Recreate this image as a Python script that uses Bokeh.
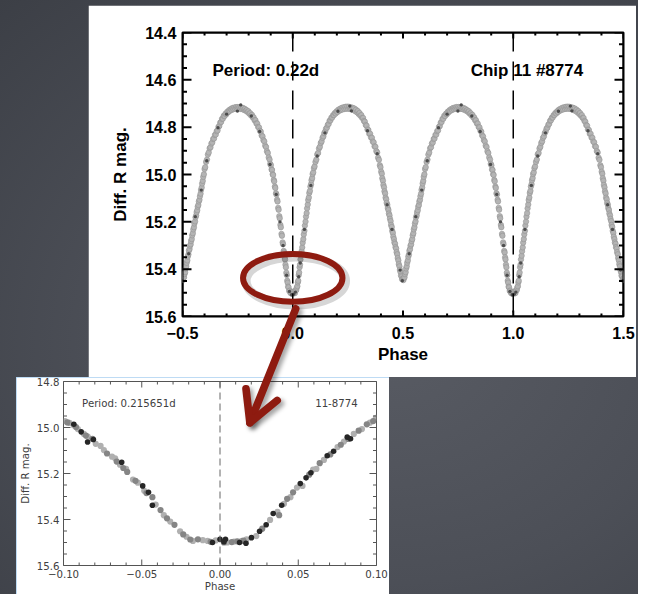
import numpy as np
from bokeh.plotting import figure
from bokeh.models import (Range1d, FixedTicker, Span, Label, CustomJSTickFormatter, Spacer, Div)
from bokeh.layouts import row, column
from bokeh.embed import file_html
from bokeh.resources import INLINE

# ---------------- data: one folded cycle of the light curve (phase 0..1) ----------------
cycle_phase = [
    0.001, 0.004, 0.007, 0.010, 0.013, 0.016, 0.018, 0.021, 0.023, 0.025, 0.027, 0.029, 0.031, 0.033,
    0.035, 0.038, 0.040, 0.043, 0.045, 0.048, 0.050, 0.053, 0.055, 0.058, 0.060, 0.063, 0.065, 0.068,
    0.070, 0.073, 0.075, 0.078, 0.080, 0.083, 0.085, 0.088, 0.090, 0.093, 0.096, 0.099, 0.103, 0.107,
    0.111, 0.115, 0.119, 0.123, 0.127, 0.131, 0.135, 0.139, 0.143, 0.147, 0.151, 0.155, 0.159, 0.163,
    0.167, 0.171, 0.175, 0.179, 0.183, 0.187, 0.191, 0.195, 0.199, 0.203, 0.207, 0.211, 0.215, 0.219,
    0.223, 0.227, 0.231, 0.235, 0.239, 0.243, 0.247, 0.251, 0.255, 0.259, 0.263, 0.267, 0.271, 0.275,
    0.279, 0.283, 0.287, 0.291, 0.295, 0.299, 0.303, 0.307, 0.311, 0.315, 0.319, 0.323, 0.327, 0.331,
    0.335, 0.339, 0.343, 0.347, 0.351, 0.355, 0.359, 0.363, 0.367, 0.371, 0.375, 0.379, 0.383, 0.387,
    0.391, 0.395, 0.398, 0.401, 0.404, 0.406, 0.409, 0.411, 0.414, 0.416, 0.419, 0.421, 0.424, 0.426,
    0.429, 0.431, 0.434, 0.436, 0.439, 0.441, 0.444, 0.446, 0.449, 0.451, 0.454, 0.456, 0.459, 0.461,
    0.464, 0.466, 0.469, 0.471, 0.474, 0.476, 0.479, 0.481, 0.484, 0.486, 0.489, 0.491, 0.494, 0.496,
    0.499, 0.502, 0.504, 0.507, 0.509, 0.512, 0.514, 0.517, 0.519, 0.522, 0.524, 0.527, 0.529, 0.532,
    0.534, 0.537, 0.539, 0.542, 0.544, 0.547, 0.549, 0.552, 0.554, 0.557, 0.559, 0.562, 0.564, 0.567,
    0.569, 0.572, 0.574, 0.577, 0.579, 0.582, 0.584, 0.587, 0.589, 0.592, 0.594, 0.597, 0.600, 0.603,
    0.607, 0.611, 0.615, 0.619, 0.623, 0.627, 0.631, 0.635, 0.639, 0.643, 0.647, 0.651, 0.655, 0.659,
    0.663, 0.667, 0.671, 0.675, 0.679, 0.683, 0.687, 0.691, 0.695, 0.699, 0.703, 0.707, 0.711, 0.715,
    0.719, 0.723, 0.727, 0.731, 0.735, 0.739, 0.743, 0.747, 0.751, 0.755, 0.759, 0.763, 0.767, 0.771,
    0.775, 0.779, 0.783, 0.787, 0.791, 0.795, 0.799, 0.803, 0.807, 0.811, 0.815, 0.819, 0.823, 0.827,
    0.831, 0.835, 0.839, 0.843, 0.847, 0.851, 0.855, 0.859, 0.863, 0.867, 0.871, 0.875, 0.879, 0.883,
    0.887, 0.891, 0.895, 0.898, 0.901, 0.904, 0.906, 0.909, 0.911, 0.914, 0.916, 0.919, 0.921, 0.924,
    0.926, 0.929, 0.931, 0.934, 0.936, 0.939, 0.941, 0.944, 0.946, 0.949, 0.951, 0.954, 0.956, 0.959,
    0.961, 0.963, 0.965, 0.967, 0.969, 0.971, 0.973, 0.975, 0.977, 0.979, 0.981, 0.984, 0.987, 0.990,
    0.993, 0.996, 0.999,
]
cycle_mag = [
    15.496, 15.503, 15.494, 15.501, 15.490, 15.488, 15.478, 15.472, 15.456, 15.449, 15.425, 15.414, 15.392, 15.381,
    15.359, 15.343, 15.324, 15.308, 15.288, 15.273, 15.253, 15.238, 15.216, 15.199, 15.178, 15.163, 15.143, 15.127,
    15.108, 15.097, 15.078, 15.069, 15.051, 15.041, 15.024, 15.015, 14.998, 14.991, 14.973, 14.966, 14.947, 14.937,
    14.915, 14.909, 14.890, 14.883, 14.867, 14.860, 14.845, 14.839, 14.825, 14.818, 14.806, 14.802, 14.790, 14.786,
    14.773, 14.771, 14.760, 14.759, 14.749, 14.749, 14.740, 14.742, 14.733, 14.736, 14.726, 14.731, 14.722, 14.727,
    14.718, 14.725, 14.716, 14.723, 14.714, 14.722, 14.713, 14.722, 14.714, 14.723, 14.716, 14.725, 14.718, 14.728,
    14.721, 14.732, 14.726, 14.737, 14.732, 14.744, 14.740, 14.752, 14.749, 14.761, 14.761, 14.774, 14.777, 14.791,
    14.794, 14.810, 14.812, 14.828, 14.828, 14.844, 14.845, 14.861, 14.864, 14.881, 14.883, 14.901, 14.907, 14.929,
    14.938, 14.961, 14.969, 14.988, 14.997, 15.016, 15.026, 15.044, 15.054, 15.071, 15.080, 15.098, 15.105, 15.120,
    15.128, 15.142, 15.150, 15.165, 15.173, 15.187, 15.197, 15.213, 15.222, 15.238, 15.247, 15.263, 15.273, 15.287,
    15.293, 15.307, 15.313, 15.328, 15.337, 15.353, 15.363, 15.379, 15.388, 15.403, 15.413, 15.427, 15.431, 15.443,
    15.441, 15.446, 15.437, 15.434, 15.421, 15.413, 15.397, 15.388, 15.373, 15.363, 15.347, 15.338, 15.322, 15.315,
    15.301, 15.295, 15.281, 15.273, 15.257, 15.248, 15.232, 15.223, 15.207, 15.198, 15.181, 15.173, 15.159, 15.151,
    15.136, 15.129, 15.114, 15.107, 15.092, 15.081, 15.065, 15.055, 15.038, 15.027, 15.010, 14.999, 14.977, 14.969,
    14.947, 14.937, 14.916, 14.907, 14.889, 14.885, 14.869, 14.865, 14.850, 14.848, 14.833, 14.831, 14.817, 14.814,
    14.799, 14.795, 14.781, 14.778, 14.765, 14.764, 14.752, 14.753, 14.743, 14.745, 14.735, 14.737, 14.728, 14.731,
    14.723, 14.727, 14.719, 14.724, 14.717, 14.722, 14.715, 14.721, 14.715, 14.721, 14.716, 14.723, 14.717, 14.724,
    14.719, 14.727, 14.723, 14.731, 14.728, 14.736, 14.733, 14.743, 14.741, 14.751, 14.748, 14.759, 14.759, 14.771,
    14.771, 14.784, 14.785, 14.799, 14.801, 14.815, 14.819, 14.835, 14.839, 14.855, 14.860, 14.878, 14.884, 14.902,
    14.909, 14.928, 14.937, 14.955, 14.961, 14.979, 14.981, 14.999, 15.002, 15.023, 15.029, 15.051, 15.057, 15.079,
    15.085, 15.107, 15.114, 15.141, 15.149, 15.176, 15.185, 15.213, 15.223, 15.251, 15.259, 15.287, 15.295, 15.323,
    15.330, 15.350, 15.359, 15.381, 15.392, 15.415, 15.425, 15.449, 15.457, 15.474, 15.477, 15.492, 15.491, 15.501,
    15.497, 15.504, 15.497,
]
# darker measurements of the same cycle
dark_phase = [0.004, 0.012, 0.027, 0.034, 0.053, 0.082, 0.111, 0.146, 0.205, 0.259, 0.266, 0.339,
              0.383, 0.428, 0.450, 0.487, 0.497, 0.528, 0.558, 0.585, 0.610, 0.661, 0.700, 0.749,
              0.764, 0.812, 0.850, 0.897, 0.925, 0.942, 0.956, 0.972, 0.985, 0.995]
dark_mag = [15.506, 15.497, 15.432, 15.374, 15.232, 15.046, 14.922, 14.824, 14.733, 14.711, 14.731, 14.815,
            14.912, 15.128, 15.232, 15.404, 15.449, 15.335, 15.178, 15.066, 14.942, 14.802, 14.745, 14.732,
            14.706, 14.753, 14.818, 14.958, 15.084, 15.200, 15.300, 15.426, 15.494, 15.508]

# ---------------- data: zoom on the primary minimum (inset) ----------------
inset_light_phase = [-0.0991, -0.0962, -0.0935, -0.0908, -0.0870, -0.0845, -0.0794, -0.0763, -0.0742,
                     -0.0690, -0.0670, -0.0639, -0.0600, -0.0556, -0.0525, -0.0484, -0.0411, -0.0359,
                     -0.0318, -0.0255, -0.0214, -0.0173, -0.0110, -0.0079, -0.0027, 0.0046, 0.0090,
                     0.0139, 0.0170, 0.0232, 0.0320, 0.0367, 0.0409, 0.0450, 0.0492, 0.0527, 0.0595,
                     0.0616, 0.0664, 0.0751, 0.0792, 0.0855, 0.0907, 0.0958, 0.0996]
inset_light_mag = [14.972, 14.980, 14.990, 15.007, 15.028, 15.040, 15.071, 15.080, 15.098,
                   15.127, 15.134, 15.162, 15.180, 15.226, 15.240, 15.275, 15.335, 15.381,
                   15.409, 15.451, 15.475, 15.493, 15.490, 15.493, 15.491, 15.500, 15.496,
                   15.493, 15.486, 15.472, 15.402, 15.367, 15.332, 15.303, 15.261, 15.254, 15.183,
                   15.180, 15.141, 15.085, 15.061, 15.028, 15.007, 14.979, 14.958]
inset_mid_phase = [-0.0975, -0.0920, -0.0857, -0.0815, -0.0722, -0.0660, -0.0618, -0.0593, -0.0540,
                   -0.0470, -0.0432, -0.0380, -0.0339, -0.0291, -0.0235, -0.0190, -0.0141, -0.0060,
                   0.0025, 0.0075, 0.0110, 0.0150, 0.0270, 0.0378, 0.0429, 0.0467, 0.0570, 0.0637,
                   0.0705, 0.0772, 0.0820, 0.0886, 0.0938, 0.0979]
inset_mid_mag = [14.978, 14.998, 15.035, 15.049, 15.113, 15.148, 15.176, 15.193, 15.232,
                 15.285, 15.303, 15.359, 15.395, 15.423, 15.465, 15.487, 15.486, 15.497,
                 15.500, 15.498, 15.495, 15.492, 15.440, 15.381, 15.310, 15.282, 15.205, 15.155,
                 15.117, 15.075, 15.050, 15.014, 14.986, 14.972]
inset_dark_phase = [-0.0934, -0.0887, -0.0846, -0.0809, -0.0628, -0.0494, -0.0457, -0.0432, -0.0048,
                    0.0000, 0.0025, 0.0035, 0.0125, 0.0166, 0.0201, 0.0253, 0.0295, 0.0340, 0.0394,
                    0.0513, 0.0550, 0.0581, 0.0685, 0.0726, 0.0813, 0.0834]
inset_dark_mag = [14.986, 15.019, 15.063, 15.052, 15.151, 15.254, 15.282, 15.338, 15.500,
                  15.486, 15.497, 15.486, 15.500, 15.503, 15.479, 15.451, 15.423, 15.374, 15.338,
                  15.244, 15.219, 15.197, 15.123, 15.103, 15.042, 15.049]

main_xticks = [-0.5, 0.0, 0.5, 1.0, 1.5]
main_xminor = [-0.4, -0.3, -0.2, -0.1, 0.1, 0.2, 0.3, 0.4, 0.6, 0.7, 0.8, 0.9,
               1.1, 1.2, 1.3, 1.4]
main_yticks = [14.4, 14.6, 14.8, 15.0, 15.2, 15.4, 15.6]
main_yminor = [14.45, 14.5, 14.55, 14.65, 14.7, 14.75, 14.85, 14.9, 14.95, 15.05, 15.1, 15.15,
               15.25, 15.3, 15.35, 15.45, 15.5, 15.55]
inset_xticks = [-0.10, -0.05, 0.0, 0.05, 0.10]
inset_xminor = [-0.09, -0.08, -0.07, -0.06, -0.04, -0.03, -0.02, -0.01, 0.01, 0.02, 0.03, 0.04,
                0.06, 0.07, 0.08, 0.09]
inset_yticks = [14.8, 15.0, 15.2, 15.4, 15.6]
inset_yminor = [14.85, 14.9, 14.95, 15.05, 15.1, 15.15, 15.25, 15.3, 15.35, 15.45, 15.5, 15.55]
eclipse_phases = [0.0, 1.0]

main_title_left = "Period: 0.22d"
main_title_right = "Chip 11 #8774"
inset_title_left = "Period: 0.215651d"
inset_title_right = "11-8774"

# ---------------- geometry helpers (reference pixels -> page pixels) ----------------
SX = 638 / 654
SY = 594 / 610
def ex(v):
    return int(round(v * SX))
def ey(v):
    return int(round(v * SY))
def fs(v):
    return f"{v * SY:.1f}px"

MAIN_FONT = "Liberation Sans"
INSET_FONT = "DejaVu Sans"
RED = "#8e1b10"

def style_axis(ax, ticks, minors, digits, color, font, fsize, style, standoff):
    ax.ticker = FixedTicker(ticks=ticks, minor_ticks=minors)
    ax.formatter = CustomJSTickFormatter(
        code="return tick.toFixed(%d).replace('-', '\\u2212');" % digits)
    ax.major_label_text_font_size = fsize
    ax.major_tick_in = 0
    ax.major_tick_out = 0
    ax.minor_tick_in = 0
    ax.minor_tick_out = 0
    ax.axis_line_color = None
    ax.major_label_text_font = font
    ax.major_label_text_font_style = style
    ax.major_label_text_color = color
    ax.major_label_standoff = int(standoff)
    ax.axis_label_text_font = font
    ax.axis_label_text_font_style = style
    ax.axis_label_text_color = color


def add_frame_and_ticks(fig, xr, yr, fw, fh, xmaj, xmin, ymaj, ymin, lx, ly, color, lw):
    """Frame lines and inward IDL-style ticks on all four sides."""
    x0, x1 = xr
    ybot, ytop = yr
    kx = (x1 - x0) / fw          # data units per pixel (x)
    ky = (ybot - ytop) / fh      # data units per pixel (y, inverted axis)
    for loc in (x0, x1):
        fig.add_layout(Span(location=loc, dimension="height", line_color=color, line_width=lw))
    for loc in (ybot, ytop):
        fig.add_layout(Span(location=loc, dimension="width", line_color=color, line_width=lw))
    for vals, length in ((xmaj, lx), (xmin, lx / 2.0)):
        v = np.array(vals, dtype=float)
        fig.segment(x0=v, y0=np.full(v.size, ybot), x1=v, y1=np.full(v.size, ybot - length * ky),
                    line_color=color, line_width=lw)
        fig.segment(x0=v, y0=np.full(v.size, ytop), x1=v, y1=np.full(v.size, ytop + length * ky),
                    line_color=color, line_width=lw)
    for vals, length in ((ymaj, ly), (ymin, ly / 2.0)):
        v = np.array(vals, dtype=float)
        fig.segment(x0=np.full(v.size, x0), y0=v, x1=np.full(v.size, x0 + length * kx), y1=v,
                    line_color=color, line_width=lw)
        fig.segment(x0=np.full(v.size, x1), y0=v, x1=np.full(v.size, x1 - length * kx), y1=v,
                    line_color=color, line_width=lw)

# ---------------- main light curve ----------------
W_main = ex(652) - ex(90)
H_main = ey(387) - ey(5)
bl, br = ex(187) - ex(90), ex(652) - ex(639)
bt, bb = ey(33) - ey(5), ey(387) - ey(324)
p = figure(width=W_main, height=H_main, x_range=Range1d(-0.5, 1.5), y_range=Range1d(15.6, 14.4),
           output_backend="svg", toolbar_location=None,
           min_border_left=bl, min_border_right=br, min_border_top=bt, min_border_bottom=bb)
p.xgrid.visible = False
p.ygrid.visible = False
p.background_fill_color = "white"
p.border_fill_color = "white"
p.outline_line_color = "black"
p.outline_line_width = 2

style_axis(p.xaxis[0], main_xticks, main_xminor, 1, "black", MAIN_FONT, fs(16.5), "bold", 10)
style_axis(p.yaxis[0], main_yticks, main_yminor, 1, "black", MAIN_FONT, fs(16.5), "bold", 6)
p.xaxis[0].axis_label = "Phase"
p.xaxis[0].axis_label_text_font_size = fs(17.5)
p.xaxis[0].axis_label_standoff = 3
p.yaxis[0].axis_label = "Diff. R mag."
p.yaxis[0].axis_label_text_font_size = fs(17.5)
p.yaxis[0].axis_label_standoff = 12

cp = np.array(cycle_phase)
cm = np.array(cycle_mag)
dp = np.array(dark_phase)
dm = np.array(dark_mag)
all_x = np.concatenate([cp - 1, cp, cp + 1])
all_y = np.concatenate([cm, cm, cm])
keep = (all_x > -0.52) & (all_x < 1.52)
p.scatter(all_x[keep], all_y[keep], size=5.4, fill_color="#b4b4b4", line_color="#939393",
          line_width=0.6)
dk_x = np.concatenate([dp - 1, dp, dp + 1])
dk_y = np.concatenate([dm, dm, dm])
keep_d = (dk_x > -0.52) & (dk_x < 1.52)
p.scatter(dk_x[keep_d], dk_y[keep_d], size=3.4, fill_color="#4d4d4d", line_color=None)

add_frame_and_ticks(p, (-0.5, 1.5), (15.6, 14.4), W_main - bl - br, H_main - bt - bb,
                    main_xticks, main_xminor, main_yticks, main_yminor, 6, 9, "black", 2)

for ph in eclipse_phases:
    p.add_layout(Span(location=ph, dimension="height", line_color="black", line_width=1.5,
                      line_dash="19 10"))

p.add_layout(Label(x=-0.364, y=14.562, text=main_title_left, text_font=MAIN_FONT,
                   text_font_style="bold", text_font_size=fs(17.5), text_color="black",
                   text_align="left", text_baseline="alphabetic"))
p.add_layout(Label(x=1.062, y=14.562, text=main_title_right, text_font=MAIN_FONT,
                   text_font_style="bold", text_font_size=fs(17.5), text_color="black",
                   text_align="center", text_baseline="alphabetic"))

# highlight ellipse around the primary minimum (with a soft shadow)
ell_shadow = p.ellipse(x=[0.014], y=[15.450], width=[0.451], height=[0.202], fill_color=None,
                       line_color="black", line_alpha=0.16, line_width=9)
ell = p.ellipse(x=[0.0], y=[15.437], width=[0.451], height=[0.202], fill_color=None,
                line_color=RED, line_width=6)
ell_shadow.level = "overlay"
ell.level = "overlay"

# ---------------- inset: zoom on primary minimum ----------------
W_in = ex(399) - ex(16)
H_in = ey(610) - ey(387)
ql, qr = ex(63.6) - ex(16), ex(399) - ex(385)
qt, qb = ey(391) - ey(387), ey(610) - ey(580.5)
q = figure(width=W_in, height=H_in, x_range=Range1d(-0.1, 0.1), y_range=Range1d(15.6, 14.8),
           output_backend="svg", toolbar_location=None,
           min_border_left=ql, min_border_right=qr, min_border_top=qt, min_border_bottom=qb)
q.xgrid.visible = False
q.ygrid.visible = False
q.background_fill_color = "white"
q.border_fill_color = "white"
q.outline_line_color = "#555555"
q.outline_line_width = 1
q.styles = {"outline": "3px solid #a9cff0", "outline-offset": "-3px"}

style_axis(q.xaxis[0], inset_xticks, inset_xminor, 2, "#404040", INSET_FONT, fs(10.5), "normal", 4)
style_axis(q.yaxis[0], inset_yticks, inset_yminor, 1, "#404040", INSET_FONT, fs(10.5), "normal", 4)
q.xaxis[0].axis_label = "Phase"
q.xaxis[0].axis_label_text_font_size = fs(10.5)
q.xaxis[0].axis_label_standoff = 0
q.yaxis[0].axis_label = "Diff. R mag."
q.yaxis[0].axis_label_text_font_size = fs(10.5)
q.yaxis[0].axis_label_standoff = 3

q.scatter(inset_light_phase, inset_light_mag, size=6.2, fill_color="#b0b0b0", line_color=None)
q.scatter(inset_mid_phase, inset_mid_mag, size=6.2, fill_color="#858585", line_color=None)
q.scatter(inset_dark_phase, inset_dark_mag, size=5.6, fill_color="#262626", line_color=None)

add_frame_and_ticks(q, (-0.1, 0.1), (15.6, 14.8), W_in - ql - qr, H_in - qt - qb,
                    inset_xticks, inset_xminor, inset_yticks, inset_yminor, 6, 7, "#555555", 1)

q.add_layout(Span(location=0.0, dimension="height", line_color="#666666", line_width=1,
                  line_dash="7 4"))

q.add_layout(Label(x=-0.0881, y=14.894, text=inset_title_left, text_font=INSET_FONT,
                   text_font_size=fs(10.5), text_color="#404040", text_align="left",
                   text_baseline="alphabetic"))
q.add_layout(Label(x=0.088, y=14.894, text=inset_title_right, text_font=INSET_FONT,
                   text_font_size=fs(10.5), text_color="#404040", text_align="right",
                   text_baseline="alphabetic"))

# ---------------- call-out arrow (slide decoration crossing both panels) ----------------
PAGE_W, PAGE_H = ex(654), ey(610)
def P(x, y):
    return f"{x * SX:.1f},{y * SY:.1f}"
shaft = f"M{P(298, 312)} L{P(251, 429)}"
head = f"M{P(247, 394)} L{P(251, 429)} L{P(279, 406)}"
arrow_svg = (
    f'<svg xmlns="http://www.w3.org/2000/svg" width="{PAGE_W}" height="{PAGE_H}" '
    f'style="display:block">'
    '<defs><filter id="soft" x="-50%" y="-50%" width="200%" height="200%">'
    '<feGaussianBlur stdDeviation="2.2"/></filter></defs>'
    f'<g transform="translate(3,3)" filter="url(#soft)" stroke="#000" stroke-opacity="0.35" '
    'stroke-width="8" fill="none" stroke-linecap="round" stroke-linejoin="round">'
    f'<path d="{shaft}"/><path d="{head}"/></g>'
    f'<g stroke="{RED}" stroke-width="7.6" fill="none" stroke-linecap="round" '
    'stroke-linejoin="round">'
    f'<path d="{shaft}"/><path d="{head}"/></g></svg>'
)
overlay = Div(text=arrow_svg, width=PAGE_W, height=PAGE_H,
              styles={"position": "absolute", "z-index": "20", "pointer-events": "none"})

# ---------------- page composition ----------------
top_strip = Spacer(width=PAGE_W, height=ey(5))
main_row = row(Spacer(width=ex(90), height=H_main), p,
               Spacer(width=ex(654) - ex(652), height=H_main))
inset_row = row(Spacer(width=ex(16), height=H_in), q,
                Spacer(width=ex(654) - ex(399), height=H_in))
page = column(overlay, top_strip, main_row, inset_row,
              styles={"background": "radial-gradient(ellipse 90% 80% at 62% 58%, #585b63 0%, "
                                     "#4c4f57 50%, #3c3f46 100%)"})

open("out.html", "w").write(file_html(page, INLINE))
